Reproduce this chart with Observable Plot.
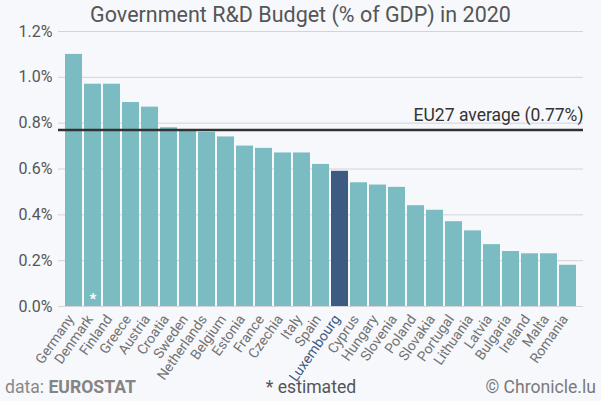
<!DOCTYPE html>
<html><head><meta charset="utf-8">
<script src="https://cdn.jsdelivr.net/npm/d3@7"></script>
<script src="https://cdn.jsdelivr.net/npm/@observablehq/plot@0.6"></script>
<style>
html,body{margin:0;padding:0;background:#f6f8fc;}
#wrap{position:relative;width:601px;height:401px;overflow:hidden;font-family:Roboto,sans-serif;}
#title{position:absolute;top:0;left:0;width:601px;text-align:center;font-size:21.5px;line-height:30px;color:#555;}
#chart{position:absolute;top:0;left:0;}
.foot{position:absolute;top:375px;font-size:17.6px;line-height:24px;color:#7a7a7a;white-space:nowrap;}
</style></head>
<body>
<div id="wrap">
<div id="chart"></div>
<div id="title">Government R&amp;D Budget (% of GDP) in 2020</div>
<div class="foot" style="left:5px;color:#888">data: <b style="color:#848484">EUROSTAT</b></div>
<div class="foot" style="left:0;width:622px;text-align:center;color:#555">* estimated</div>
<div class="foot" style="right:5px">© Chronicle.lu</div>
</div>
<script>
const countries = ["Germany","Denmark","Finland","Greece","Austria","Croatia","Sweden","Netherlands","Belgium","Estonia","France","Czechia","Italy","Spain","Luxembourg","Cyprus","Hungary","Slovenia","Poland","Slovakia","Portugal","Lithuania","Latvia","Bulgaria","Ireland","Malta","Romania"];
const values = [1.10,0.97,0.97,0.89,0.87,0.78,0.77,0.76,0.74,0.70,0.69,0.67,0.67,0.62,0.59,0.54,0.53,0.52,0.44,0.42,0.37,0.33,0.27,0.24,0.23,0.23,0.18];
const estimated = ["Denmark"];
const highlight = "Luxembourg";
const euAverage = 0.77;
const yTicks = [0,0.2,0.4,0.6,0.8,1.0,1.2];

const data = countries.map((c,i)=>({country:c, value:values[i]}));
const teal = "#7bbcc3", navy = "#3d5a82";

const plot = Plot.plot({
  width: 601, height: 401,
  marginTop: 31, marginBottom: 95, marginLeft: 58, marginRight: 18,
  style: {background: "transparent", fontFamily: "Roboto, sans-serif", overflow: "visible"},
  x: {domain: countries, padding: 0.08, axis: null},
  y: {domain: [0, 1.2], axis: null},
  marks: [
    Plot.ruleY(yTicks, {stroke: "#d2d4d8", strokeWidth: 1}),
    Plot.text(yTicks, {y: d=>d, frameAnchor: "left", dx: -6, textAnchor: "end", text: d=>d.toFixed(1)+"%", fontSize: 16, fill: "#555"}),
    Plot.barY(data, {x: "country", y: "value", fill: d=>d.country===highlight?navy:teal}),
    Plot.ruleY([euAverage], {stroke: "#333", strokeWidth: 2.5}),
    Plot.text([euAverage], {y: d=>d, frameAnchor: "right", textAnchor: "end", lineAnchor: "bottom", dy: -9, text: d=>"EU27 average ("+d.toFixed(2)+"%)", fontSize: 17.5, fill: "#333"}),
    Plot.text(estimated, {x: d=>d, y: 0, dy: -7, text: d=>"*", fill: "white", fontSize: 15, fontWeight: "bold"}),
    Plot.text(data, {x: "country", y: 0, dy: 10, dx: -3, rotate: -55, textAnchor: "end", lineAnchor: "middle", text: "country", fontSize: 14, fill: d=>d.country===highlight?navy:"#727272"})
  ]
});
document.getElementById("chart").appendChild(plot);
</script>
</body></html>
